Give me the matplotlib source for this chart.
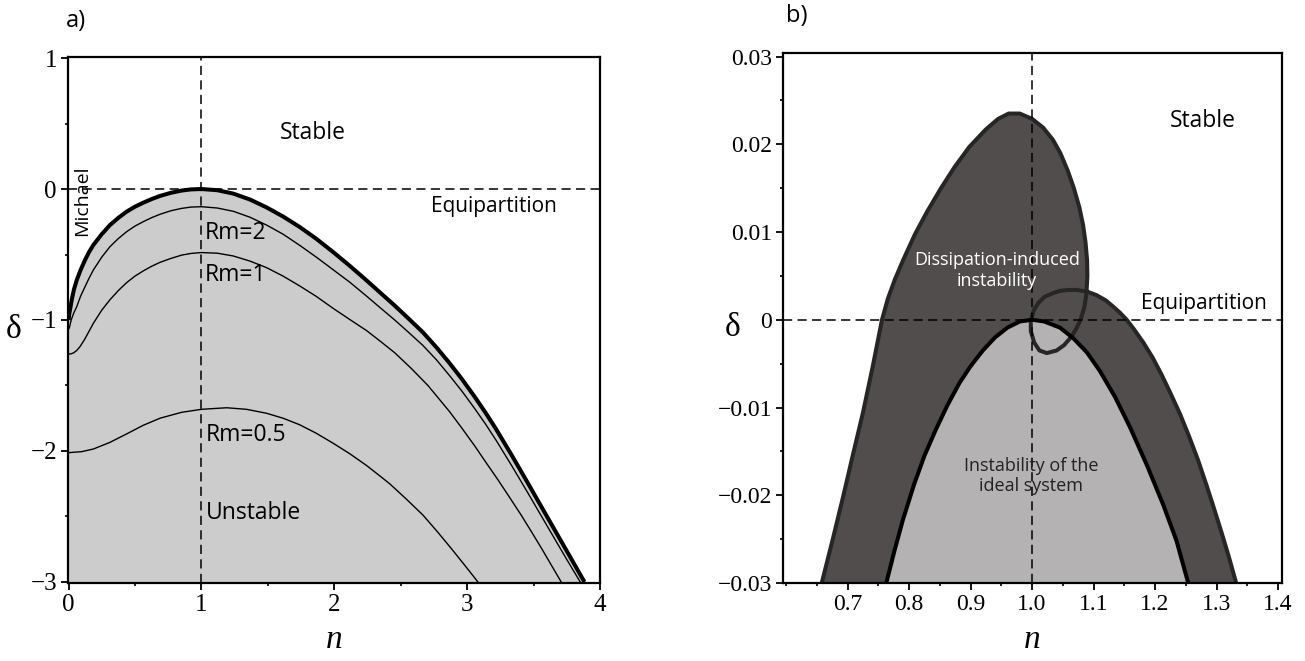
import matplotlib
matplotlib.use('Agg')
import matplotlib.pyplot as plt
from matplotlib.ticker import MultipleLocator

# ---- panel a: stability boundaries (n, delta) ----
mich_n = [0.0, 0.006, 0.015, 0.024, 0.04, 0.062, 0.09, 0.124, 0.155, 0.187, 0.25,
          0.312, 0.375, 0.437, 0.5, 0.563, 0.625, 0.688, 0.77, 0.85, 0.92, 1.0,
          1.12, 1.24, 1.365, 1.49, 1.615, 1.74, 1.865, 1.99, 2.115, 2.24, 2.35,
          2.455, 2.56, 2.668, 2.77, 2.868, 2.96, 3.056, 3.14, 3.219, 3.337, 3.457,
          3.595, 3.745, 3.883]
mich_d = [-1.0, -0.95, -0.90, -0.847, -0.77, -0.695, -0.62, -0.542, -0.48, -0.427, -0.345,
          -0.275, -0.22, -0.173, -0.135, -0.104, -0.077, -0.053, -0.029, -0.012, -0.003, 0.0,
          -0.009, -0.035, -0.08, -0.14, -0.21, -0.29, -0.38, -0.48, -0.585, -0.695, -0.795,
          -0.89, -0.99, -1.095, -1.21, -1.33, -1.45, -1.585, -1.71, -1.835, -2.035, -2.245,
          -2.49, -2.755, -3.0]

rm2_n = [0.0, 0.006, 0.02, 0.04, 0.062, 0.09, 0.124, 0.155, 0.187, 0.25, 0.312,
         0.375, 0.437, 0.5, 0.563, 0.625, 0.688, 0.77, 0.85, 0.92, 1.0, 1.12,
         1.24, 1.365, 1.49, 1.615, 1.74, 1.865, 1.99, 2.115, 2.24, 2.35, 2.455,
         2.56, 2.668, 2.77, 2.868, 2.96, 3.056, 3.14, 3.219, 3.337, 3.457, 3.595,
         3.745, 3.851]
rm2_d = [-1.07, -1.06, -1.0, -0.945, -0.898, -0.82, -0.746, -0.68, -0.618, -0.52, -0.44,
         -0.378, -0.326, -0.283, -0.249, -0.219, -0.193, -0.166, -0.148, -0.138, -0.135, -0.145,
         -0.17, -0.215, -0.275, -0.345, -0.43, -0.52, -0.615, -0.71, -0.815, -0.91, -1.0,
         -1.095, -1.195, -1.305, -1.425, -1.542, -1.675, -1.797, -1.92, -2.115, -2.32, -2.56,
         -2.82, -3.0]

rm1_n = [0.0, 0.02, 0.04, 0.062, 0.086, 0.12, 0.155, 0.187, 0.25, 0.312, 0.375,
         0.437, 0.5, 0.563, 0.625, 0.688, 0.77, 0.85, 0.92, 1.0, 1.12, 1.239,
         1.365, 1.49, 1.615, 1.74, 1.865, 1.99, 2.115, 2.242, 2.35, 2.455, 2.58,
         2.705, 2.868, 2.96, 3.056, 3.14, 3.232, 3.32, 3.407, 3.48, 3.558, 3.63,
         3.708]
rm1_d = [-1.26, -1.258, -1.25, -1.232, -1.204, -1.15, -1.085, -1.025, -0.925, -0.845, -0.775,
         -0.715, -0.665, -0.625, -0.59, -0.56, -0.53, -0.505, -0.492, -0.485, -0.49, -0.511,
         -0.55, -0.60, -0.665, -0.74, -0.82, -0.91, -0.995, -1.08, -1.165, -1.25, -1.37,
         -1.50, -1.70, -1.825, -1.96, -2.085, -2.22, -2.355, -2.49, -2.61, -2.74, -2.865,
         -3.0]

rm05_n = [0.0, 0.1, 0.187, 0.31, 0.437, 0.56, 0.688, 0.85, 1.0, 1.19, 1.34,
          1.49, 1.615, 1.74, 1.865, 1.99, 2.115, 2.242, 2.33, 2.417, 2.54, 2.668,
          2.775, 2.881, 2.98, 3.081]
rm05_d = [-2.013, -2.005, -1.985, -1.935, -1.87, -1.805, -1.75, -1.705, -1.682, -1.67, -1.682,
          -1.712, -1.75, -1.80, -1.865, -1.94, -2.02, -2.11, -2.18, -2.25, -2.365, -2.49,
          -2.615, -2.745, -2.87, -3.0]

# ---- panel b: dissipative boundary (with its loop) and ideal boundary ----
diss_n = [0.658, 0.676, 0.693, 0.709, 0.725, 0.741, 0.756, 0.7655, 0.777, 0.791, 0.81,
          0.83, 0.852, 0.874, 0.898, 0.925, 0.945, 0.962, 0.98, 1.0, 1.018, 1.034,
          1.046, 1.058, 1.068, 1.077, 1.083, 1.087, 1.0895, 1.090, 1.0885, 1.085, 1.079,
          1.072, 1.0645, 1.052, 1.040, 1.024, 1.012, 1.0035, 0.998, 0.998, 1.003, 1.010,
          1.02, 1.033, 1.0455, 1.06, 1.073, 1.09, 1.105, 1.12, 1.132, 1.143, 1.154,
          1.166, 1.181, 1.196, 1.211, 1.226, 1.241, 1.256, 1.27, 1.283, 1.295, 1.308,
          1.32, 1.332]
diss_d = [-0.030, -0.025, -0.0201, -0.0153, -0.0106, -0.0053, 0.0, 0.0024, 0.0046, 0.0069, 0.0098,
          0.0124, 0.0150, 0.0174, 0.0197, 0.0217, 0.0229, 0.0235, 0.0235, 0.0229, 0.0219, 0.0205,
          0.019, 0.017, 0.015, 0.0128, 0.0108, 0.0088, 0.0068, 0.005, 0.003, 0.0014, 0.0,
          -0.001, -0.0019, -0.0029, -0.0035, -0.0038, -0.0035, -0.0026, -0.0013, -0.0001, 0.0011, 0.0019,
          0.0026, 0.003, 0.0033, 0.0034, 0.0034, 0.0032, 0.0028, 0.0022, 0.0015, 0.0008, 0.0,
          -0.0011, -0.0026, -0.0043, -0.0063, -0.0085, -0.0108, -0.0134, -0.016, -0.0187, -0.0213, -0.0242,
          -0.027, -0.030]
loop = slice(30, 50)

ideal_n = [0.763, 0.776, 0.79, 0.808, 0.825, 0.843, 0.862, 0.882, 0.90, 0.92, 0.94,
           0.96, 0.98, 1.0, 1.02, 1.0455, 1.067, 1.089, 1.11, 1.135, 1.159, 1.187,
           1.214, 1.235, 1.254]
ideal_d = [-0.030, -0.0264, -0.0228, -0.0188, -0.0155, -0.0126, -0.0098, -0.0072, -0.0053, -0.0035, -0.002,
           -0.0009, -0.0002, 0.0, -0.0002, -0.0009, -0.0021, -0.0037, -0.0058, -0.0088, -0.0122, -0.0166,
           -0.0212, -0.0252, -0.030]

plt.rcParams['font.family'] = ['Open Sans', 'DejaVu Sans']
serif = 'Liberation Serif'

W, H = 1305, 661
fig = plt.figure(figsize=(W / 100, H / 100), dpi=100)
ax1 = fig.add_axes([68 / W, 1 - 583 / H, (600 - 68) / W, (583 - 57) / H])
ax2 = fig.add_axes([783 / W, 1 - 583 / H, (1282 - 783) / W, (583 - 53) / H])

dash = (0, (6, 3.5))

# panel a
ax1.fill_between(mich_n, mich_d, -3, color='#cccccc', lw=0)
for xs, ys in ((rm05_n, rm05_d), (rm1_n, rm1_d), (rm2_n, rm2_d)):
    ax1.plot(xs, ys, color='k', lw=1.0)
ax1.plot(mich_n, mich_d, color='k', lw=2.9, solid_capstyle='butt', solid_joinstyle='round')
ax1.axhline(0, color='k', lw=1.1, ls=dash)
ax1.axvline(1, color='k', lw=1.1, ls=dash)
ax1.set_xlim(-0.004, 4.0)
ax1.set_ylim(-3.008, 1.008)
ax1.set_xticks([0, 1, 2, 3, 4])
ax1.set_xticklabels(['0', '1', '2', '3', '4'])
ax1.set_yticks([-3, -2, -1, 0, 1])
ax1.set_yticklabels(['\u22123', '\u22122', '\u22121', '0', '1'])
ax1.xaxis.set_minor_locator(MultipleLocator(0.5))
ax1.yaxis.set_minor_locator(MultipleLocator(0.5))

ax1.text(1.84, 0.43, 'Stable', fontsize=16.5, ha='center', va='center')
ax1.text(3.2, -0.135, 'Equipartition', fontsize=15, ha='center', va='center')
ax1.text(0.10, -0.09, 'Michael', fontsize=14, rotation=90, ha='center', va='center')
ax1.text(1.026, -0.336, 'Rm=2', fontsize=16.5, ha='left', va='center')
ax1.text(1.026, -0.656, 'Rm=1', fontsize=16.5, ha='left', va='center')
ax1.text(1.03, -1.88, 'Rm=0.5', fontsize=16.5, ha='left', va='center')
ax1.text(1.03, -2.47, 'Unstable', fontsize=16.5, ha='left', va='center')

# panel b
ax2.fill(diss_n, diss_d, color='#514d4d', lw=0)
ax2.fill(diss_n[loop], diss_d[loop], color='#514d4d', lw=0)
ax2.fill(ideal_n, ideal_d, color='#b4b2b3', lw=0)
ax2.plot(diss_n, diss_d, color='#262626', lw=2.9, solid_joinstyle='round')
ax2.plot(ideal_n, ideal_d, color='k', lw=2.9, solid_joinstyle='round')
ax2.axhline(0, color='k', lw=1.1, ls=dash)
ax2.axvline(1, color='k', lw=1.1, ls=dash)
ax2.set_xlim(0.595, 1.4065)
ax2.set_ylim(-0.0300, 0.0304)
ax2.set_xticks([0.7, 0.8, 0.9, 1.0, 1.1, 1.2, 1.3, 1.4])
ax2.set_xticklabels(['0.7', '0.8', '0.9', '1.0', '1.1', '1.2', '1.3', '1.4'])
ax2.set_yticks([-0.03, -0.02, -0.01, 0, 0.01, 0.02, 0.03])
ax2.set_yticklabels(['\u22120.03', '\u22120.02', '\u22120.01', '0', '0.01', '0.02', '0.03'])
ax2.xaxis.set_minor_locator(MultipleLocator(0.05))
ax2.yaxis.set_minor_locator(MultipleLocator(0.005))

ax2.text(1.278, 0.0226, 'Stable', fontsize=16.5, ha='center', va='center')
ax2.text(1.279, 0.0018, 'Equipartition', fontsize=15, ha='center', va='center')
ax2.text(0.943, 0.0056, 'Dissipation-induced\ninstability', fontsize=13, color='white',
         ha='center', va='center', linespacing=1.2)
ax2.text(0.998, -0.0178, 'Instability of the\nideal system', fontsize=13, color='#222222',
         ha='center', va='center', linespacing=1.2)

for ax in (ax1, ax2):
    for s in ax.spines.values():
        s.set_linewidth(1.6)
    ax.tick_params(which='major', direction='out', length=5, width=1.3, pad=3,
                   labelsize=17, labelfontfamily=serif)
    ax.tick_params(which='minor', direction='out', length=2.5, width=1.2)

ax1.tick_params(which='major', labelsize=18)

fig.text(14 / W, 1 - 330 / H, '\u03b4', family=serif, fontsize=24, ha='center', va='center')
fig.text(733 / W, 1 - 328 / H, '\u03b4', family=serif, fontsize=24, ha='center', va='center')
fig.text(334 / W, 1 - 640 / H, 'n', family=serif, style='italic', fontsize=24,
         ha='center', va='center')
fig.text(1032 / W, 1 - 640 / H, 'n', family=serif, style='italic', fontsize=24,
         ha='center', va='center')
fig.text(76 / W, 1 - 21 / H, 'a)', fontsize=17, ha='center', va='center')
fig.text(797 / W, 1 - 16 / H, 'b)', fontsize=17, ha='center', va='center')

fig.savefig('out.png', dpi=100)
